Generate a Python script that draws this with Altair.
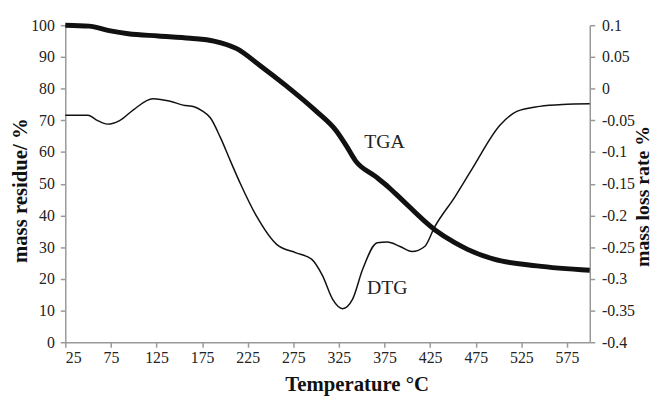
import altair as alt
import pandas as pd

# TGA curve (mass residue, %)
tga_temp = [25, 51, 73, 94, 127, 162, 188, 213, 238, 268, 300, 322, 333, 343, 365, 379, 387, 430, 452, 466, 495, 542, 600]
tga_mass = [100, 99.7, 98.3, 97.3, 96.6, 95.9, 95.0, 92.6, 87.4, 80.7, 72.9, 66.7, 62.0, 57.3, 52.3, 49.0, 46.9, 35.5, 31.4, 29.3, 26.2, 24.1, 22.7]

# DTG curve (mass loss rate, %)
dtg_temp = [25, 50, 60, 71, 85, 100, 121, 140, 154, 167, 175, 184, 195, 206, 217, 235, 257, 278, 295, 307, 318, 329,
            340, 351, 367, 378, 392, 405, 419, 430, 452, 470, 502, 520, 545, 570, 600]
dtg_rate = [-0.042, -0.042, -0.050, -0.056, -0.050, -0.033, -0.016, -0.020, -0.026, -0.029, -0.035, -0.046, -0.077,
            -0.114, -0.150, -0.202, -0.246, -0.259, -0.269, -0.295, -0.332, -0.347, -0.332, -0.285, -0.243, -0.242,
            -0.249, -0.257, -0.249, -0.218, -0.171, -0.129, -0.057, -0.036, -0.028, -0.025, -0.024]

x_ticks = [25, 75, 125, 175, 225, 275, 325, 375, 425, 475, 525, 575]
left_ticks = [0, 10, 20, 30, 40, 50, 60, 70, 80, 90, 100]
right_ticks = [-0.4, -0.35, -0.3, -0.25, -0.2, -0.15, -0.1, -0.05, 0, 0.05, 0.1]

label_text = ["TGA", "DTG"]
label_temp = [375, 378]
label_mass = [63.2, 17.1]

tga_df = pd.DataFrame({"T": tga_temp, "m": tga_mass})
dtg_df = pd.DataFrame({"T": dtg_temp, "r": dtg_rate})
lab_df = pd.DataFrame({"T": label_temp, "m": label_mass, "t": label_text})

FONT = "Liberation Serif"
AX = dict(grid=False, domainColor="#999", domainWidth=1.5, tickColor="#999", tickWidth=1.5,
          labelColor="#222", labelFont=FONT, labelFontSize=16, labelOverlap=False,
          titleFont=FONT, titleFontWeight="bold", titleColor="#111", tickSize=5)

xscale = alt.Scale(domain=[25, 600], nice=False, zero=False)
x_axis = alt.Axis(values=x_ticks, format="d", title="Temperature °C", titleFontSize=21,
                  titleX=295, titleY=49, titleBaseline="alphabetic",
                  titleAlign="center", labelPadding=3, **AX)

left_scale = alt.Scale(domain=[0, 100], nice=False, zero=False)
left_axis = alt.Axis(values=left_ticks, title="mass residue/ %", orient="left", titleFontSize=21,
                     titleAngle=270, titleX=-45, titleY=167, titleAlign="center",
                     titleBaseline="middle", labelPadding=6, **AX)
right_scale = alt.Scale(domain=[-0.4, 0.1], nice=False, zero=False)
right_axis = alt.Axis(values=right_ticks, title="mass loss rate %", orient="right", titleFontSize=20,
                      labelExpr="datum.value < 0 ? '-' + format(-datum.value, '~g') : format(datum.value, '~g')",
                      titleAngle=270, titleX=53, titleY=173, titleAlign="center",
                      titleBaseline="middle", labelPadding=7, **AX)

tga = alt.Chart(tga_df).mark_line(color="#111", strokeWidth=5, interpolate="monotone").encode(
    x=alt.X("T:Q", scale=xscale, axis=x_axis, title="Temperature °C"),
    y=alt.Y("m:Q", scale=left_scale, axis=left_axis, title="mass residue/ %"),
)

labels = alt.Chart(lab_df).mark_text(font=FONT, fontSize=20, color="#222", align="center",
                                     baseline="middle").encode(
    x=alt.X("T:Q", scale=xscale, axis=x_axis, title="Temperature °C"),
    y=alt.Y("m:Q", scale=left_scale, axis=left_axis, title="mass residue/ %"),
    text="t:N",
)

dtg = alt.Chart(dtg_df).mark_line(color="#111", strokeWidth=1.5, interpolate="monotone").encode(
    x=alt.X("T:Q", scale=xscale, axis=x_axis, title="Temperature °C"),
    y=alt.Y("r:Q", scale=right_scale, axis=right_axis, title="mass loss rate %"),
)

chart = alt.layer(tga + labels, dtg).resolve_scale(y="independent").properties(
    width=531, height=321,
    padding={"left": 58, "top": 15, "right": 62, "bottom": 52},
    autosize=alt.AutoSizeParams(type="none"),
).configure_view(stroke=None)

chart.save("out.html", embed_options={"renderer": "svg", "actions": False})
